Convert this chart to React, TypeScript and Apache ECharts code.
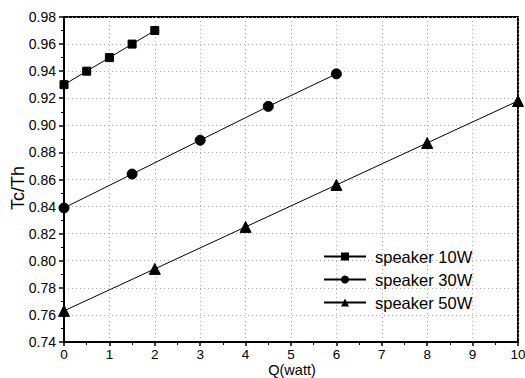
import React, { useEffect, useRef } from "react";
import * as echarts from "echarts";

const names = ["speaker 10W", "speaker 30W", "speaker 50W"];
const x10 = [0, 0.5, 1, 1.5, 2];
const y10 = [0.930, 0.940, 0.950, 0.960, 0.970];
const x30 = [0, 1.5, 3, 4.5, 6];
const y30 = [0.839, 0.864, 0.889, 0.914, 0.938];
const x50 = [0, 2, 4, 6, 8, 10];
const y50 = [0.763, 0.794, 0.825, 0.856, 0.887, 0.918];
const symbols = ["rect", "circle", "triangle"];
const symbolSizes = [8, 10, 11];

const font = "Liberation Sans, Arial, sans-serif";

export default function App() {
  const ref = useRef<HTMLDivElement>(null);
  useEffect(() => {
    const chart = echarts.init(ref.current!, null, { renderer: "svg" });
    const xs = [x10, x30, x50];
    const ys = [y10, y30, y50];
    chart.setOption({
      animation: false,
      backgroundColor: "#fff",
      textStyle: { fontFamily: font },
      grid: {
        left: 64, right: 7, top: 17, bottom: 36,
        outerBoundsMode: "none",
        containLabel: false,
        show: true, borderColor: "#000", borderWidth: 2, backgroundColor: "transparent",
      },
      graphic: [
        {
          type: "text",
          x: 18,
          y: 188,
          rotation: Math.PI / 2,
          style: {
            text: "Tc/Th",
            fontSize: 18,
            fontFamily: font,
            fill: "#000",
            align: "center",
            verticalAlign: "middle",
          },
        },
        {
          type: "text",
          x: 292,
          y: 370,
          style: {
            text: "Q(watt)",
            fontSize: 14.5,
            fontFamily: font,
            fill: "#000",
            align: "center",
            verticalAlign: "middle",
          },
        },
      ],
      legend: {
        orient: "vertical",
        left: 318,
        top: 243,
        itemWidth: 42,
        itemHeight: 10,
        itemGap: 6,
        data: names,
        textStyle: { fontSize: 16.5, color: "#000", fontFamily: font, padding: [0, 0, 0, 4] },
      },
      xAxis: {
        type: "value",
        min: 0, max: 10, interval: 1,
        axisLine: { lineStyle: { color: "#000", width: 2 } },
        axisTick: { show: true, length: 4, inside: false, lineStyle: { color: "#000", width: 1.5 } },
        minorTick: { show: true, splitNumber: 2, length: 3, lineStyle: { color: "#000", width: 1 } },
        axisLabel: { fontSize: 13.5, color: "#000", margin: 5, fontFamily: font },
        splitLine: { show: true, lineStyle: { color: "#aaa", type: [1, 3], width: 1 } },
      },
      yAxis: {
        type: "value",
        min: 0.74, max: 0.98, interval: 0.02,
        axisLine: { lineStyle: { color: "#000", width: 2 } },
        axisTick: { show: true, length: 5, inside: false, lineStyle: { color: "#000", width: 1.5 } },
        minorTick: { show: true, splitNumber: 2, length: 3, lineStyle: { color: "#000", width: 1 } },
        axisLabel: {
          fontSize: 14, color: "#000", margin: 8, fontFamily: font,
          formatter: (v: number) => v.toFixed(2),
        },
        splitLine: { show: true, lineStyle: { color: "#aaa", type: [1, 3], width: 1 } },
      },
      series: names.map((n, i) => ({
        name: n,
        type: "line",
        data: xs[i].map((x, j) => [x, ys[i][j]]),
        symbol: symbols[i],
        symbolSize: symbolSizes[i],
        showAllSymbol: true,
        clip: false,
        lineStyle: { color: "#000", width: 1 },
        itemStyle: { color: "#000", borderColor: "#000" },
      })),
    });
    return () => chart.dispose();
  }, []);
  return <div ref={ref} style={{ width: 525, height: 378, position: "absolute", left: 0, top: 0 }} />;
}
